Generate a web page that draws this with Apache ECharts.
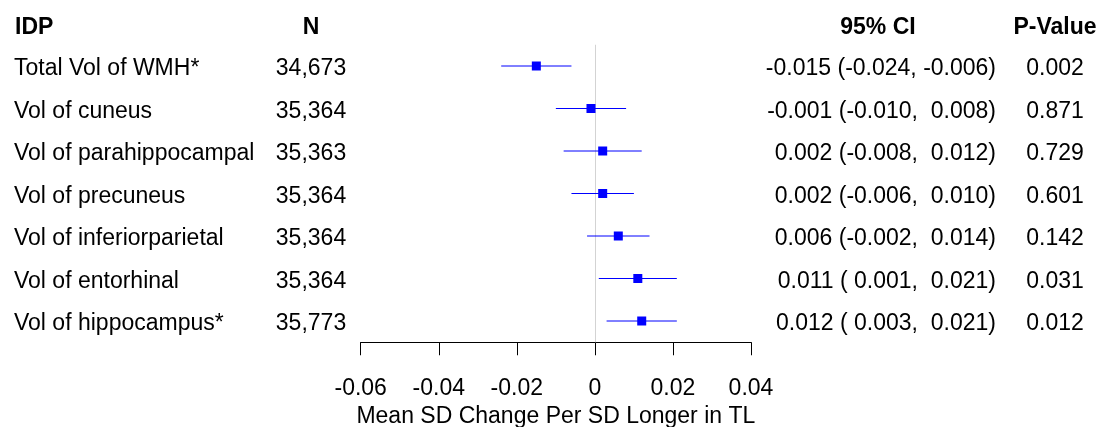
<!DOCTYPE html>
<html>
<head>
<meta charset="utf-8">
<script src="https://cdn.jsdelivr.net/npm/echarts@6/dist/echarts.min.js"></script>
<style>
html,body{margin:0;padding:0;background:#fff;}
#c{width:1105px;height:427px;}
</style>
</head>
<body>
<div id="c"></div>
<script>
const idpLabels = ["Total Vol of WMH*", "Vol of cuneus", "Vol of parahippocampal", "Vol of precuneus", "Vol of inferiorparietal", "Vol of entorhinal", "Vol of hippocampus*"];
const nValues = ["34,673", "35,364", "35,363", "35,364", "35,364", "35,364", "35,773"];
const estimates = [-0.015, -0.001, 0.002, 0.002, 0.006, 0.011, 0.012];
const ciLower = [-0.024, -0.010, -0.008, -0.006, -0.002, 0.001, 0.003];
const ciUpper = [-0.006, 0.008, 0.012, 0.010, 0.014, 0.021, 0.021];
const pValues = ["0.002", "0.871", "0.729", "0.601", "0.142", "0.031", "0.012"];
const xTicks = [-0.06, -0.04, -0.02, 0, 0.02, 0.04];
const xTickLabels = ["-0.06", "-0.04", "-0.02", "0", "0.02", "0.04"];
const headers = {idp: "IDP", n: "N", ci: "95% CI", p: "P-Value"};
const xTitle = "Mean SD Change Per SD Longer in TL";

const pad = v => (v < 0 ? v.toFixed(3) : " " + v.toFixed(3));
const ciText = estimates.map((e, i) => e.toFixed(3) + " (" + pad(ciLower[i]) + ", " + pad(ciUpper[i]) + ")");

const FONT = "Liberation Sans, Arial, sans-serif";
const FS = 23;
const GL = 360.7, GR = 1105 - 751, GT = 44.75, GH = 297.5;
const TEXT_SHIFT = 3;

const chart = echarts.init(document.getElementById('c'), null, {renderer: 'canvas'});
const baseCat = {
  type: 'category', inverse: true,
  axisLine: {show: false}, axisTick: {show: false}, splitLine: {show: false}
};
const lbl = (align, margin) => ({color: '#000', fontFamily: FONT, fontSize: FS, align: align, margin: margin});
const headFont = 'bold ' + FS + 'px ' + FONT;
const option = {
  backgroundColor: '#fff',
  animation: false,
  grid: [
    {left: GL, right: GR, top: GT, height: GH, containLabel: false, outerBoundsMode: 'none'},
    {left: GL, right: GR, top: GT + TEXT_SHIFT, height: GH, containLabel: false, outerBoundsMode: 'none'}
  ],
  xAxis: [{
    type: 'value', gridIndex: 0, min: -0.06, max: 0.04, interval: 0.02,
    axisLine: {show: true, lineStyle: {color: '#000', width: 1}},
    axisTick: {show: true, length: 13, lineStyle: {color: '#000', width: 1}},
    splitLine: {show: false},
    axisLabel: {
      color: '#000', fontFamily: FONT, fontSize: FS, margin: 35,
      formatter: v => { const k = xTicks.findIndex(t => Math.abs(t - v) < 1e-9); return k >= 0 ? xTickLabels[k] : ''; }
    },
    name: xTitle, nameLocation: 'middle', nameGap: 62,
    nameTextStyle: {color: '#000', fontFamily: FONT, fontSize: FS}
  }, {
    type: 'value', gridIndex: 1, min: -0.06, max: 0.04, show: false
  }],
  yAxis: [
    Object.assign({}, baseCat, {gridIndex: 0, data: idpLabels, position: 'left', axisLabel: {show: false}}),
    Object.assign({}, baseCat, {gridIndex: 1, data: idpLabels, position: 'left', axisLabel: lbl('left', GL - 14)}),
    Object.assign({}, baseCat, {gridIndex: 1, data: nValues, position: 'left', offset: 0, axisLabel: lbl('center', GL - 311)}),
    Object.assign({}, baseCat, {gridIndex: 1, data: ciText, position: 'right', offset: 0, axisLabel: lbl('right', 996 - 751)}),
    Object.assign({}, baseCat, {gridIndex: 1, data: pValues, position: 'right', offset: 0, axisLabel: lbl('center', 1055 - 751)})
  ],
  graphic: [
    {type: 'text', x: 15, y: 28, style: {text: headers.idp, font: headFont, fill: '#000', textAlign: 'left', textVerticalAlign: 'middle'}},
    {type: 'text', x: 311, y: 28, style: {text: headers.n, font: headFont, fill: '#000', textAlign: 'center', textVerticalAlign: 'middle'}},
    {type: 'text', x: 878, y: 28, style: {text: headers.ci, font: headFont, fill: '#000', textAlign: 'center', textVerticalAlign: 'middle'}},
    {type: 'text', x: 1055, y: 28, style: {text: headers.p, font: headFont, fill: '#000', textAlign: 'center', textVerticalAlign: 'middle'}}
  ],
  series: [
    {
      type: 'custom', xAxisIndex: 0, yAxisIndex: 0, z: 2,
      data: ciLower.map((l, i) => [l, i, ciUpper[i]]),
      encode: {x: [0, 2], y: 1},
      renderItem: (params, api) => {
        const a = api.coord([api.value(0), api.value(1)]);
        const b = api.coord([api.value(2), api.value(1)]);
        return {type: 'line', shape: {x1: a[0], y1: a[1], x2: b[0], y2: b[1]},
          style: {stroke: '#0000ff', lineWidth: 1}};
      }
    },
    {
      type: 'scatter', xAxisIndex: 0, yAxisIndex: 0, z: 3,
      symbol: 'rect', symbolSize: 9,
      itemStyle: {color: '#0000ff', opacity: 1},
      data: estimates.map((e, i) => [e, i]),
      markLine: {
        silent: true, symbol: 'none', label: {show: false}, z: 1,
        lineStyle: {color: '#d3d3d3', width: 1, type: 'solid'},
        data: [{xAxis: 0}]
      }
    }
  ]
};
chart.setOption(option);
</script>
</body>
</html>
